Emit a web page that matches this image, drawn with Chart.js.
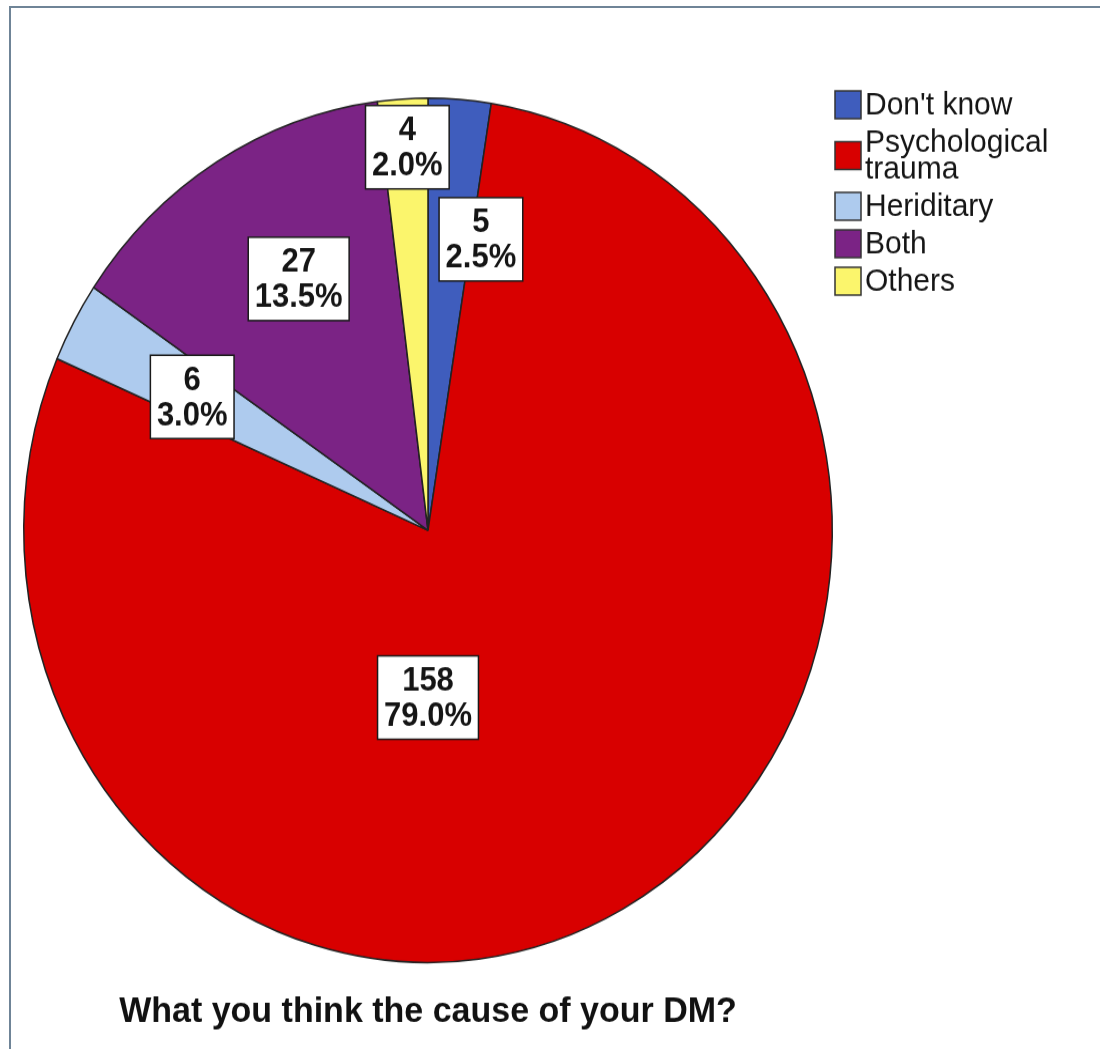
<!DOCTYPE html>
<html>
<head>
<meta charset="utf-8">
<script src="https://cdn.jsdelivr.net/npm/chart.js@4.4.1/dist/chart.umd.min.js"></script>
<style>
    html, body { margin: 0; padding: 0; background: #ffffff; }
    body { width: 1100px; height: 1049px; position: relative; overflow: hidden; }
    #frame {
        position: absolute; left: 9px; top: 6px; right: -10px; bottom: -10px;
        border-left: 2px solid #6f8497; border-top: 2px solid #6f8497;
    }
    /* the original picture is a bit taller than wide, so the canvas is stretched */
    #wrap {
        position: absolute; left: 0; top: 0; width: 1100px; height: 981px;
        transform: scaleY(1.069); transform-origin: 0 0;
    }
</style>
</head>
<body>
<div id="frame"></div>
<div id="wrap"><canvas id="pieChart" width="1100" height="981"></canvas></div>
<script>
// Datos del gráfico
const categories = ["Don't know", 'Psychological trauma', 'Heriditary', 'Both', 'Others'];
const legendLines = [["Don't know"], ['Psychological', 'trauma'], ['Heriditary'], ['Both'], ['Others']];
const counts = [5, 158, 6, 27, 4];
const percents = ['2.5%', '79.0%', '3.0%', '13.5%', '2.0%'];
const chartTitle = 'What you think the cause of your DM?';

const sliceColors = ['#3f5dbd', '#d80000', '#aecbee', '#7b2385', '#fbf56c'];
const fontFamily = '"Liberation Sans", Arial, Helvetica, sans-serif';

// Etiquetas con caja blanca (cantidad y porcentaje) dentro de cada sector
const boxLabels = {
    id: 'boxLabels',
    afterDatasetsDraw(chart, args, opts) {
        const ctx = chart.ctx;
        const arcs = chart.getDatasetMeta(0).data;
        ctx.save();
        ctx.font = 'bold 31px ' + fontFamily;
        ctx.textAlign = 'center';
        ctx.textBaseline = 'middle';
        arcs.forEach((arc, i) => {
            const p = arc.getProps(['x', 'y', 'startAngle', 'endAngle', 'outerRadius'], true);
            const mid = (p.startAngle + p.endAngle) / 2 + opts.angleShift[i] * Math.PI / 180;
            const r = p.outerRadius * opts.radius[i];
            const cx = p.x + Math.cos(mid) * r;
            const cy = p.y + Math.sin(mid) * r;
            const lines = [String(counts[i]), percents[i]];
            const w = Math.max(...lines.map(t => ctx.measureText(t).width)) + 13;
            const h = 78;
            ctx.fillStyle = '#ffffff';
            ctx.fillRect(cx - w / 2, cy - h / 2, w, h);
            ctx.strokeStyle = '#1a1a1a';
            ctx.lineWidth = 1.5;
            ctx.strokeRect(cx - w / 2, cy - h / 2, w, h);
            ctx.fillStyle = '#151515';
            ctx.fillText(lines[0], cx, cy - 15);
            ctx.fillText(lines[1], cx, cy + 18);
        });
        ctx.restore();
    }
};

// Leyenda dibujada a mano porque una entrada ocupa dos líneas
const sideLegend = {
    id: 'sideLegend',
    afterDraw(chart, args, opts) {
        const ctx = chart.ctx;
        const colors = chart.data.datasets[0].backgroundColor;
        ctx.save();
        ctx.font = '30px ' + fontFamily;
        ctx.textBaseline = 'middle';
        ctx.textAlign = 'left';
        let y = opts.top;
        legendLines.forEach((lines, i) => {
            const first = y;
            const last = y + (lines.length - 1) * opts.wrapGap;
            const boxY = (first + last) / 2;
            ctx.fillStyle = colors[i];
            ctx.fillRect(opts.left, boxY - 13, 26, 26);
            ctx.strokeStyle = '#333333';
            ctx.lineWidth = 1.5;
            ctx.strokeRect(opts.left, boxY - 13, 26, 26);
            ctx.fillStyle = '#151515';
            lines.forEach((t, k) => ctx.fillText(t, opts.left + 30, first + k * opts.wrapGap + 1));
            y = last + opts.itemGap;
        });
        ctx.restore();
    }
};

const ctx = document.getElementById('pieChart').getContext('2d');
new Chart(ctx, {
    type: 'pie',
    data: {
        labels: categories,
        datasets: [{
            data: counts,
            backgroundColor: sliceColors,
            borderColor: '#222222',
            borderWidth: 1.5
        }]
    },
    options: {
        responsive: false,
        animation: false,
        devicePixelRatio: 1,
        layout: {
            padding: { left: 23, right: 267, top: 91, bottom: 0 }
        },
        plugins: {
            legend: { display: false },
            tooltip: { enabled: false },
            title: {
                display: true,
                position: 'bottom',
                text: chartTitle,
                color: '#111111',
                font: { family: fontFamily, size: 34, weight: 'bold' },
                padding: { top: 25, bottom: 14 }
            },
            boxLabels: {
                radius: [0.686, 0.387, 0.66, 0.664, 0.888],
                angleShift: [6.5, 28.8, -0.9, 2.7, 0.3]
            },
            sideLegend: { left: 835, top: 98, itemGap: 35, wrapGap: 25 }
        }
    },
    plugins: [boxLabels, sideLegend]
});
</script>
</body>
</html>
